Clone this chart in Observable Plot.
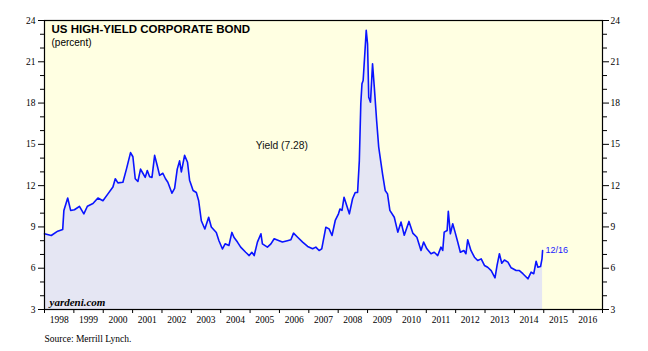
<!DOCTYPE html>
<html><head><meta charset="utf-8">
<script src="https://cdn.jsdelivr.net/npm/d3@7"></script>
<script src="https://cdn.jsdelivr.net/npm/@observablehq/plot@0.6"></script>
<style>body{margin:0;background:#fff} svg{display:block}</style>
</head><body><div id="chart"></div>
<script>
// decimal-year dates and yields (percent)
const dates = [1998.00,1998.23,1998.45,1998.62,1998.66,1998.79,1998.89,1999.02,1999.19,1999.34,1999.46,1999.65,1999.82,1999.99,
2000.16,2000.33,2000.41,2000.50,2000.67,2000.79,2000.93,2001.01,2001.09,2001.18,2001.27,2001.35,2001.43,2001.50,2001.58,2001.66,
2001.75,2001.84,2001.92,2002.03,2002.12,2002.20,2002.34,2002.43,2002.52,2002.60,2002.66,2002.77,2002.87,2002.94,2003.06,2003.17,
2003.25,2003.34,2003.46,2003.59,2003.68,2003.85,2003.94,2004.06,2004.15,2004.28,2004.38,2004.45,2004.57,2004.68,2004.85,2004.97,
2005.06,2005.14,2005.25,2005.37,2005.42,2005.59,2005.71,2005.82,2005.99,2006.10,2006.27,2006.39,2006.48,2006.62,2006.79,2006.96,
2007.13,2007.24,2007.35,2007.44,2007.58,2007.69,2007.79,2007.90,2008.01,2008.06,2008.13,2008.20,2008.29,2008.38,2008.49,2008.58,
2008.66,2008.72,2008.77,2008.81,2008.85,2008.92,2008.955,2009.00,2009.04,2009.10,2009.17,2009.23,2009.31,2009.38,2009.46,2009.51,
2009.60,2009.68,2009.76,2009.91,2010.03,2010.14,2010.25,2010.41,2010.54,2010.68,2010.82,2010.91,2011.02,2011.16,2011.27,2011.39,
2011.50,2011.56,2011.61,2011.71,2011.75,2011.82,2011.90,2011.98,2012.07,2012.16,2012.28,2012.35,2012.41,2012.52,2012.64,2012.75,
2012.87,2012.98,2013.09,2013.21,2013.34,2013.41,2013.49,2013.57,2013.66,2013.78,2013.89,2014.06,2014.17,2014.29,2014.46,2014.57,
2014.66,2014.74,2014.80,2014.89,2014.94,2014.96];
const yields = [8.5,8.38,8.69,8.81,10.2,11.1,10.2,10.25,10.5,9.95,10.5,10.7,11.1,10.9,
11.4,11.9,12.5,12.2,12.25,13.2,14.4,14.1,12.5,12.3,13.2,12.9,12.6,13.1,12.65,12.6,
14.2,13.45,12.75,12.9,12.5,12.25,11.45,11.8,13.2,13.8,13.0,14.2,13.7,12.4,11.65,11.5,
10.9,9.45,8.85,9.7,9.0,8.6,8.0,7.4,7.77,7.65,8.6,8.25,7.9,7.53,7.16,6.92,
7.16,6.92,7.9,8.5,7.77,7.53,7.77,8.14,8.0,7.9,8.0,8.07,8.55,8.25,7.9,7.58,
7.41,7.53,7.29,7.41,8.98,8.86,8.38,9.47,9.95,10.3,10.2,11.16,10.56,9.95,11.05,11.5,
11.5,13.8,17.95,19.4,19.64,22.06,23.28,22.3,18.43,18.07,20.86,19.16,16.7,14.8,13.6,12.86,
11.65,11.4,10.2,9.7,8.62,9.35,8.4,9.4,8.55,8.25,7.29,7.9,7.41,7.05,7.16,6.92,
7.53,7.29,8.62,8.74,10.14,8.5,9.23,8.62,7.9,7.16,7.29,7.05,8.07,7.29,6.8,6.56,
6.68,6.2,6.07,5.83,5.3,6.2,7.05,6.36,6.6,6.44,6.03,5.83,5.83,5.6,5.23,5.71,
5.6,6.51,6.07,6.12,6.68,7.28];
const yearTicks = [1998,1999,2000,2001,2002,2003,2004,2005,2006,2007,2008,2009,2010,2011,2012,2013,2014,2015,2016,2017];
const yearLabels = [1998,1999,2000,2001,2002,2003,2004,2005,2006,2007,2008,2009,2010,2011,2012,2013,2014,2015,2016];
const yTicks = [3,6,9,12,15,18,21,24];
const yMinor = [4,5,7,8,10,11,13,14,16,17,19,20,22,23];
const titleText = "US HIGH-YIELD CORPORATE BOND";
const unitText = "(percent)";
const sourceText = "Source: Merrill Lynch.";
const brandText = "yardeni.com";
const lastDateText = "12/16";
const seriesName = "Yield";
const yieldLabelPos = [{t: 2005.19, v: 14.9}];

const data = dates.map((t, i) => ({t, v: yields[i]}));
const last = data[data.length - 1];
const serif = "Liberation Serif, Times New Roman, serif";
const sans = "Liberation Sans, Arial, sans-serif";

const chart = Plot.plot({
  width: 648, height: 351,
  marginLeft: 44, marginRight: 46, marginTop: 20, marginBottom: 42,
  x: {domain: [1998, 2017], axis: null},
  y: {domain: [3, 24], axis: null},
  style: {background: "#fff", overflow: "visible"},
  marks: [
    Plot.frame({fill: "#ffffe2"}),
    Plot.areaY(data, {x: "t", y1: 3, y2: "v", fill: "#e5e6f3"}),
    Plot.lineY(data, {x: "t", y: "v", stroke: "#0a14ff", strokeWidth: 1.6}),
    Plot.frame({stroke: "#000", strokeWidth: 1.2}),
    Plot.axisY(yTicks, {anchor: "left", label: null, tickSize: 6, tickPadding: 3, fontSize: 9.5, fontFamily: serif, color: "#000", stroke: "#000", fill: "#000"}),
    Plot.axisY(yMinor, {anchor: "left", label: null, tickSize: 4, tickFormat: () => "", stroke: "#000"}),
    Plot.axisY(yTicks, {anchor: "right", label: null, tickSize: 6, tickPadding: 2, fontSize: 9.5, fontFamily: serif, color: "#000", stroke: "#000", fill: "#000"}),
    Plot.axisY(yMinor, {anchor: "right", label: null, tickSize: 4, tickFormat: () => "", stroke: "#000"}),
    Plot.axisX(yearTicks, {anchor: "bottom", label: null, tickSize: 4, tickFormat: () => "", stroke: "#000"}),
    Plot.text(yearLabels, {x: d => d + 0.5, frameAnchor: "bottom", dy: 10, lineAnchor: "middle", text: d => String(d), fontSize: 9.5, fontFamily: serif, fill: "#000"}),
    Plot.text([titleText], {frameAnchor: "top-left", dx: 7, dy: 9, lineAnchor: "middle", textAnchor: "start", fontSize: 11.5, fontWeight: "bold", fontFamily: sans, fill: "#000"}),
    Plot.text([unitText], {frameAnchor: "top-left", dx: 7, dy: 22, lineAnchor: "middle", textAnchor: "start", fontSize: 10, fontFamily: sans, fill: "#000"}),
    Plot.text(yieldLabelPos, {x: "t", y: "v", text: () => `${seriesName} (${last.v.toFixed(2)})`, textAnchor: "start", fontSize: 10.3, fontFamily: sans, fill: "#111"}),
    Plot.text([last], {x: "t", y: "v", text: () => lastDateText, dx: 3, textAnchor: "start", fontSize: 9, fontFamily: sans, fill: "#1a1aff"}),
    Plot.text([brandText], {frameAnchor: "bottom-left", dx: 5, dy: -7, lineAnchor: "middle", textAnchor: "start", fontSize: 11, fontWeight: "bold", fontStyle: "italic", fontFamily: serif, fill: "#000"}),
    Plot.text([sourceText], {frameAnchor: "bottom-left", dx: 0, dy: 29, lineAnchor: "middle", textAnchor: "start", fontSize: 9.5, fontFamily: serif, fill: "#000"})
  ]
});
document.getElementById("chart").appendChild(chart);
</script>
</body></html>
